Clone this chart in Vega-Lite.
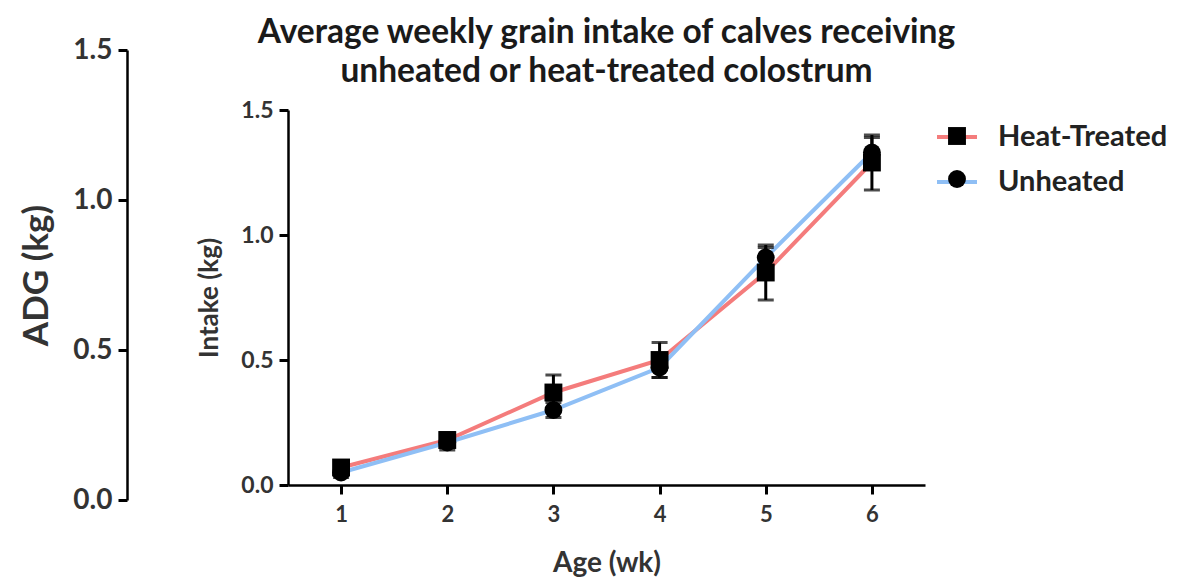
{
  "$schema": "https://vega.github.io/schema/vega-lite/v6.json",
  "width": 637,
  "height": 375,
  "autosize": {"type": "none"},
  "padding": {"left": 288, "top": 110, "right": 266, "bottom": 95},
  "background": "white",
  "config": {
    "view": {"stroke": null},
    "font": "Lato",
    "axis": {
      "grid": false,
      "domainColor": "black",
      "domainWidth": 2.5,
      "tickColor": "black",
      "tickWidth": 3,
      "tickSize": 9,
      "labelFont": "Lato",
      "labelFontWeight": "bold",
      "labelColor": "#333333",
      "titleFont": "Lato",
      "titleFontWeight": "bold",
      "titleColor": "#333333"
    },
    "legend": {"padding": 0}
  },
  "title": {
    "text": ["Average weekly grain intake of calves receiving", "unheated or heat-treated colostrum"],
    "font": "Lato",
    "fontSize": 33.5,
    "fontWeight": "bold",
    "color": "#1a1a1a",
    "lineHeight": 39,
    "anchor": "middle",
    "offset": -53
  },
  "resolve": {"scale": {"y": "independent"}},
  "layer": [
    {
      "data": {"values": [{"adg": 0}, {"adg": 1.5}]},
      "mark": {"type": "point", "opacity": 0},
      "encoding": {
        "y": {
          "field": "adg",
          "type": "quantitative",
          "scale": {"domain": [0, 1.5], "range": [390, -60], "nice": false, "zero": false},
          "axis": {
            "orient": "left",
            "offset": 161,
            "values": [0, 0.5, 1, 1.5],
            "format": ".1f",
            "title": "ADG (kg)",
            "labelFontSize": 28,
            "titleFontSize": 35,
            "titlePadding": 18,
            "labelPadding": 6
          }
        }
      }
    },
    {
      "data": {
        "values": [
          {"week": 1, "group": "Heat-Treated", "intake": 0.07, "sem": 0.02},
          {"week": 2, "group": "Heat-Treated", "intake": 0.18, "sem": 0.03},
          {"week": 3, "group": "Heat-Treated", "intake": 0.37, "sem": 0.07},
          {"week": 4, "group": "Heat-Treated", "intake": 0.5, "sem": 0.07},
          {"week": 5, "group": "Heat-Treated", "intake": 0.85, "sem": 0.11},
          {"week": 6, "group": "Heat-Treated", "intake": 1.29, "sem": 0.11},
          {"week": 1, "group": "Unheated", "intake": 0.05, "sem": 0.02},
          {"week": 2, "group": "Unheated", "intake": 0.17, "sem": 0.03},
          {"week": 3, "group": "Unheated", "intake": 0.3, "sem": 0.03},
          {"week": 4, "group": "Unheated", "intake": 0.47, "sem": 0.04},
          {"week": 5, "group": "Unheated", "intake": 0.91, "sem": 0.04},
          {"week": 6, "group": "Unheated", "intake": 1.33, "sem": 0.06}
        ]
      },
      "encoding": {
        "x": {
          "field": "week",
          "type": "quantitative",
          "scale": {"domain": [0.5, 6.5], "nice": false, "zero": false},
          "axis": {
            "values": [1, 2, 3, 4, 5, 6],
            "title": "Age (wk)",
            "labelFontSize": 22,
            "titleFontSize": 28,
            "titlePadding": 24,
            "labelPadding": 10
          }
        },
        "y": {
          "field": "intake",
          "type": "quantitative",
          "scale": {"domain": [0, 1.5], "nice": false, "zero": false},
          "axis": {
            "orient": "left",
            "values": [0, 0.5, 1, 1.5],
            "format": ".1f",
            "title": "Intake (kg)",
            "labelFontSize": 23,
            "titleFontSize": 26,
            "titlePadding": 18,
            "labelPadding": 6
          }
        }
      },
      "layer": [
        {
          "mark": {"type": "line", "strokeWidth": 4},
          "encoding": {
            "color": {
              "field": "group",
              "type": "nominal",
              "scale": {"domain": ["Heat-Treated", "Unheated"], "range": ["#f47c7c", "#8fbff5"]},
              "legend": {
                "title": null,
                "orient": "none",
                "legendX": 647,
                "legendY": 5,
                "symbolType": "stroke",
                "symbolSize": 1600,
                "symbolStrokeWidth": 4,
                "labelFontSize": 29,
                "labelFont": "Lato",
                "labelFontWeight": "bold",
                "labelColor": "#222222",
                "labelOffset": 19,
                "labelLimit": 400,
                "rowPadding": 8
              }
            }
          }
        },
        {
          "mark": {
            "type": "errorbar",
            "color": "black",
            "thickness": 3,
            "ticks": {"size": 16, "thickness": 3, "color": "black"}
          },
          "encoding": {
            "yError": {"field": "sem"}
          }
        },
        {
          "mark": {"type": "point", "filled": true, "color": "black", "opacity": 1},
          "encoding": {
            "shape": {
              "field": "group",
              "type": "nominal",
              "scale": {"range": ["square", "circle"]},
              "legend": {
                "title": null,
                "orient": "none",
                "legendX": 660,
                "legendY": 17,
                "symbolSize": 320,
                "symbolFillColor": "black",
                "symbolStrokeWidth": 0,
                "labelFontSize": 1,
                "labelExpr": "''",
                "labelOffset": 0,
                "rowPadding": 25
              }
            },
            "size": {"value": 320}
          }
        }
      ]
    }
  ]
}
